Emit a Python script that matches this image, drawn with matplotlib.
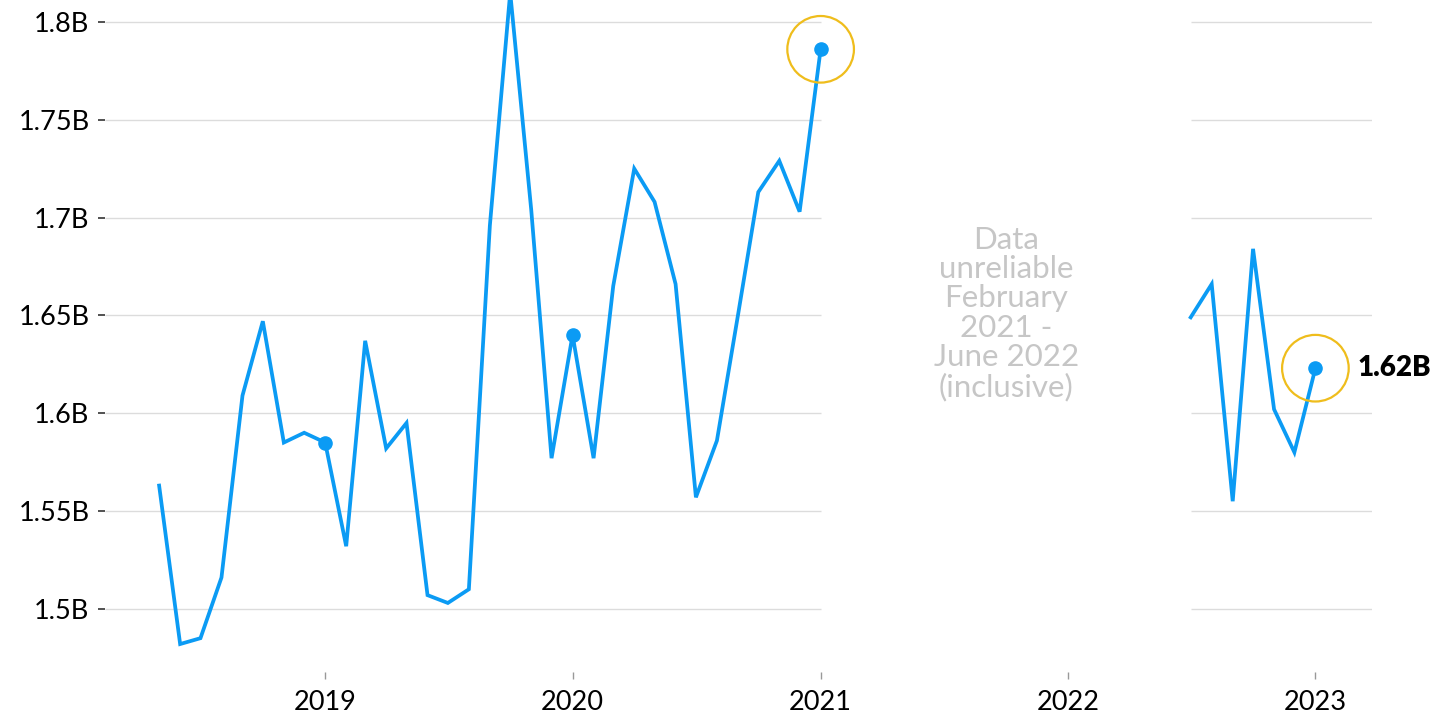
import numpy as np
import pandas as pd
import matplotlib
matplotlib.use("Agg")
import matplotlib.pyplot as plt
import matplotlib.dates as mdates

plt.rcParams["font.family"] = ["Lato", "DejaVu Sans"]

# monthly values, billions
months_a = pd.date_range("2018-05-01", "2021-01-01", freq="MS")
values_a = [1.563, 1.482, 1.485, 1.516, 1.609, 1.647, 1.585, 1.590,
            1.585, 1.532, 1.637, 1.582, 1.595, 1.507, 1.503, 1.510,
            1.696, 1.815, 1.704, 1.577, 1.640, 1.577, 1.665, 1.725,
            1.708, 1.666, 1.557, 1.586, 1.650, 1.713, 1.729, 1.703,
            1.786]
months_b = pd.date_range("2022-07-01", "2023-01-01", freq="MS")
values_b = [1.649, 1.666, 1.555, 1.684, 1.602, 1.580, 1.623]

yticks = [1.5, 1.55, 1.6, 1.65, 1.7, 1.75, 1.8]
ytick_labels = ["1.5B", "1.55B", "1.6B", "1.65B", "1.7B", "1.75B", "1.8B"]
year_ticks = pd.to_datetime(["2019-01-01", "2020-01-01", "2021-01-01", "2022-01-01", "2023-01-01"])
year_labels = ["2019", "2020", "2021", "2022", "2023"]

note = "Data\nunreliable\nFebruary\n2021 -\nJune 2022\n(inclusive)"

blue = "#0b9bf4"
gold = "#efbd1c"

fig = plt.figure(figsize=(14.37, 7.17), dpi=100)
ax = fig.add_axes([0.073, 0.063, 0.882, 0.937])

xmin = pd.Timestamp("2018-02-10")
xmax = pd.Timestamp("2023-03-26")
ax.set_xlim(xmin, xmax)
ax.set_ylim(1.4678, 1.8112)

# gridlines only where there's data
ax.hlines(yticks, xmin, months_a[-1], color="#dcdcdc", lw=1, zorder=1)
ax.hlines(yticks, months_b[0], xmax, color="#dcdcdc", lw=1, zorder=1)

ax.plot(months_a, values_a, color=blue, lw=2.7, solid_joinstyle="miter", zorder=3)
ax.plot(months_b, values_b, color=blue, lw=2.7, solid_joinstyle="miter", zorder=3)

# yearly markers
dots_x = [months_a[8], months_a[20], months_a[32], months_b[-1]]
dots_y = [values_a[8], values_a[20], values_a[32], values_b[-1]]
ax.scatter(dots_x, dots_y, s=90, color=blue, zorder=4)

# highlight rings
ax.scatter([months_a[-1], months_b[-1]], [values_a[-1], values_b[-1]], s=2300,
           facecolors="none", edgecolors=gold, linewidths=1.6, zorder=5)

ax.annotate(f"{values_b[-1]:.2f}B", (months_b[-1], values_b[-1]), xytext=(30, 0),
            textcoords="offset points", ha="left", va="center",
            fontsize=20, fontweight="heavy", color="black")

ax.text(pd.Timestamp("2021-10-02"), 1.651, note, ha="center", va="center",
        fontsize=22.5, color="#c6c6c6", linespacing=1.06)

ax.set_yticks(yticks)
ax.set_yticklabels(ytick_labels)
ax.set_xticks(year_ticks)
ax.set_xticklabels(year_labels)
ax.tick_params(axis="y", length=5, width=1.2, color="#333333", labelsize=19.5, pad=6)
ax.tick_params(axis="x", length=5, width=1, color="#999999", labelsize=19.5, pad=8)

for s in ax.spines.values():
    s.set_visible(False)

fig.savefig("out.png", dpi=100)
